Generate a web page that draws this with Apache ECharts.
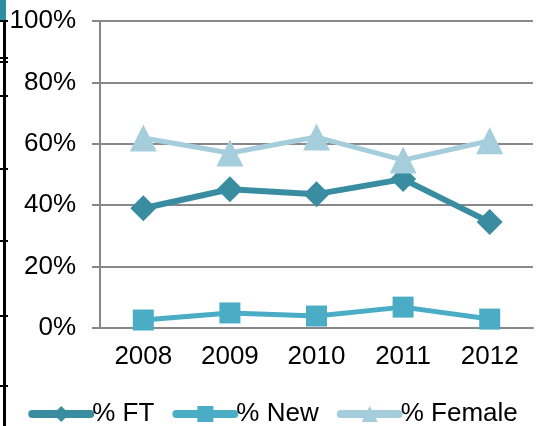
<!DOCTYPE html>
<html><head><meta charset="utf-8">
<script src="https://cdn.jsdelivr.net/npm/echarts@6/dist/echarts.min.js"></script>
<style>html,body{margin:0;padding:0;background:#fff}#c{width:546px;height:426px}</style>
</head><body><div id="c"></div>
<script>
var years = ['2008','2009','2010','2011','2012'];
var pctFT = [39.0, 45.2, 43.6, 48.5, 34.5];
var pctNew = [2.6, 4.9, 3.9, 6.8, 2.9];
var pctFemale = [61.9, 57.0, 62.2, 54.7, 61.0];
var yTicks = [0, 20, 40, 60, 80, 100];

var chart = echarts.init(document.getElementById('c'));
var font = 'Liberation Sans, Arial, sans-serif';
chart.setOption({
  animation: false,
  textStyle: {fontFamily: font},
  grid: {left: 100, right: 13, top: 21, bottom: 98},
  legend: {
    top: 396, left: 'center', itemWidth: 58, itemHeight: 20, itemGap: 18,
    lineStyle: {width: 8, cap: 'round'},
    textStyle: {fontSize: 26, color: '#000', fontFamily: font, padding: [0,0,0,-3]},
    data: ['% FT', '% New', '% Female']
  },
  xAxis: {
    type: 'category', data: years,
    axisLine: {lineStyle: {color: '#888', width: 2}},
    axisTick: {length: 8, lineStyle: {color: '#888', width: 2}},
    axisLabel: {fontSize: 26, color: '#000', margin: 16, fontFamily: font}
  },
  yAxis: {
    type: 'value', min: 0, max: 100, interval: 20,
    axisLine: {show: true, lineStyle: {color: '#888', width: 2}},
    axisTick: {show: true, length: 8, lineStyle: {color: '#888', width: 2}},
    splitLine: {lineStyle: {color: '#888', width: 2}},
    axisLabel: {fontSize: 26, color: '#000', margin: 24, fontFamily: font,
      formatter: function (v) { return yTicks.indexOf(v) >= 0 ? v + '%' : ''; }}
  },
  series: [
    {name: '% FT', type: 'line', data: pctFT, symbol: 'diamond', symbolSize: 26,
     itemStyle: {color: '#3A8DA1'}, lineStyle: {width: 6, color: '#3A8DA1'}},
    {name: '% New', type: 'line', data: pctNew, symbol: 'rect', symbolSize: 21,
     itemStyle: {color: '#4BACC6'}, lineStyle: {width: 5, color: '#4BACC6'}},
    {name: '% Female', type: 'line', data: pctFemale, symbol: 'triangle', symbolSize: 27,
     itemStyle: {color: '#A5CDDB'}, lineStyle: {width: 5, color: '#A5CDDB'}}
  ],
  graphic: [
    {type: 'rect', shape: {x: 0, y: 0, width: 6, height: 20}, style: {fill: '#2E8FA3'}},
    {type: 'rect', shape: {x: 3, y: 20, width: 3, height: 406}, style: {fill: '#000'}},
    {type: 'rect', shape: {x: 0, y: 20, width: 8, height: 2}, style: {fill: '#000'}},
    {type: 'rect', shape: {x: 0, y: 57, width: 8, height: 2}, style: {fill: '#000'}},
    {type: 'rect', shape: {x: 0, y: 61, width: 8, height: 2}, style: {fill: '#000'}},
    {type: 'rect', shape: {x: 0, y: 95, width: 8, height: 2}, style: {fill: '#000'}},
    {type: 'rect', shape: {x: 0, y: 168, width: 8, height: 2}, style: {fill: '#000'}},
    {type: 'rect', shape: {x: 0, y: 240, width: 8, height: 2}, style: {fill: '#000'}},
    {type: 'rect', shape: {x: 0, y: 315, width: 8, height: 2}, style: {fill: '#000'}},
    {type: 'rect', shape: {x: 0, y: 385, width: 8, height: 2}, style: {fill: '#000'}}
  ]
});
</script></body></html>
